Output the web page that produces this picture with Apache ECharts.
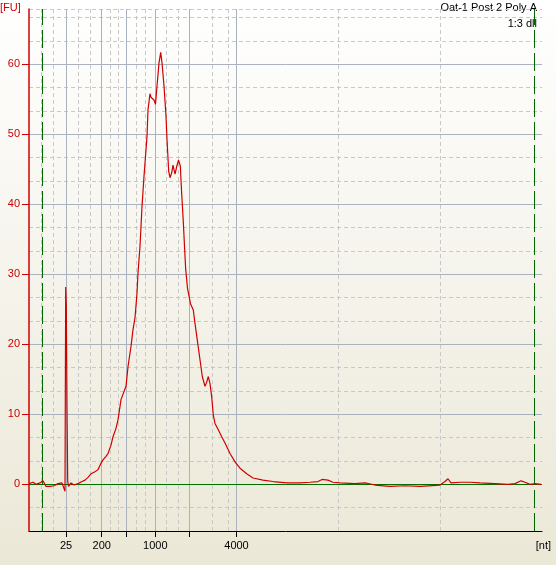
<!DOCTYPE html>
<html>
<head>
<meta charset="utf-8">
<script src="https://cdn.jsdelivr.net/npm/echarts@6/dist/echarts.min.js"></script>
<style>html,body{margin:0;padding:0;}#c{width:556px;height:565px;}</style>
</head>
<body>
<div id="c"></div>
<script>
// migration time (s) and fluorescence (FU)
const timeSec = [19.0,19.4,19.7,20.1,20.4,20.7,21.1,21.5,21.9,22.3,22.5,22.6,22.67,22.73,22.8,22.87,22.95,23.2,23.5,23.9,24.3,24.6,24.9,25.2,25.6,25.9,26.2,26.4,26.7,26.9,27.2,27.4,27.7,27.9,28.2,28.4,28.7,28.9,29.2,29.4,29.6,29.8,29.9,30.1,30.3,30.5,30.8,30.9,31.1,31.2,31.3,31.5,31.65,31.8,32.0,32.17,32.3,32.5,32.7,32.8,32.97,33.1,33.27,33.4,33.6,33.77,33.95,34.13,34.27,34.43,34.55,34.67,34.85,35.15,35.43,35.6,35.83,36.1,36.33,36.6,36.77,36.93,37.1,37.27,37.43,37.6,37.93,38.27,38.6,39.1,39.6,40.1,40.77,41.4,42.4,43.4,44.8,46.1,47.1,47.9,48.3,48.9,49.4,50.1,51.6,52.6,53.6,55.1,56.6,58.1,60.1,60.6,60.9,61.2,62.1,63.1,64.1,65.6,66.9,67.6,68.2,68.6,69.1,69.6,70.2];
const fluorescence = [0.1,0.3,0.0,0.2,0.5,-0.3,-0.3,-0.2,0.1,0.2,0.4,-1.0,28.2,25.6,11.0,0.5,-0.3,0.2,-0.1,0.1,0.4,0.6,1.0,1.5,1.8,2.1,3.0,3.5,4.0,4.4,5.6,6.8,8.0,9.2,12.1,12.2,14.0,16.8,19.7,22.1,23.8,27.3,30.2,34.0,39.7,44.0,49.7,53.5,55.8,55.3,55.1,54.9,54.3,56.9,60.2,61.7,60.2,56.9,52.6,49.3,44.7,43.8,44.5,45.6,44.3,45.4,46.3,45.5,41.5,37.5,34.0,30.7,28.0,25.8,24.9,23.0,20.6,17.8,15.4,14.0,14.6,15.4,14.4,12.5,9.9,8.7,7.8,6.8,5.9,4.4,3.2,2.3,1.5,0.9,0.6,0.4,0.2,0.2,0.3,0.4,0.7,0.6,0.3,0.2,0.1,0.2,-0.1,-0.3,-0.2,-0.3,-0.1,0.4,0.8,0.2,0.3,0.3,0.2,0.1,0.0,0.1,0.5,0.3,0.0,0.1,0.0];

// ladder positions (s) and their size labels (nt)
const ladderTimes = [22.7,26.27,28.75,31.63,35.03,39.75];
const ladderLabels = ['25','200','','1000','','4000'];
const minorGridTimes = [20.23,21.43,23.89,25.08,27.1,27.93,29.71,30.67,31.6,32.76,33.9,37.34,38.9,49.95,60.17];
const markerTimes = [20.37,69.53];
const fuTicks = [0,10,20,30,40,50,60];
const fuMajorGrid = [10,20,30,40,50,60];

const FONT = 'Liberation Sans';
const chart = echarts.init(document.getElementById('c'));
const trace = timeSec.map((t,i)=>[t,fluorescence[i]]);

const xMin = 19, xMax = 70.3;
const yMin = -20/3, yMax = 67.9;
chart.setOption({
  animation:false,
  backgroundColor:{type:'linear',x:0,y:0,x2:0,y2:1,colorStops:[{offset:0,color:'#ffffff'},{offset:1,color:'#ebe8d7'}]},
  grid:{left:29,right:14,top:9,bottom:34},
  xAxis:{
    type:'value',min:xMin,max:xMax,
    axisLine:{show:true,onZero:false,lineStyle:{color:'#000',width:1}},
    axisTick:{show:true,customValues:ladderTimes,length:6,lineStyle:{color:'#000'}},
    axisLabel:{customValues:ladderTimes,color:'#000',fontFamily:FONT,fontSize:11,margin:9,
      formatter:(v)=>{let bi=0,bd=1e9;ladderTimes.forEach((t,i)=>{const d=Math.abs(t-v);if(d<bd){bd=d;bi=i;}});return ladderLabels[bi];}},
    splitLine:{show:false}
  },
  yAxis:[{
    type:'value',min:yMin,max:yMax,interval:10/3,position:'left',z:10,
    axisLine:{show:true,onZero:false,lineStyle:{color:'#d00000',width:1.5}},
    axisTick:{show:true,customValues:fuTicks,length:7,lineStyle:{color:'#cc0000'}},
    axisLabel:{customValues:fuTicks,color:'#cc0000',fontFamily:FONT,fontSize:11,margin:9},
    splitLine:{show:false}
  },{
    type:'value',min:yMin,max:yMax,interval:10/3,position:'left',
    axisLine:{show:false},axisTick:{show:false},axisLabel:{show:false},
    splitLine:{show:true,lineStyle:{color:'#c8c8c8',type:[4,3],width:1}}
  }],
  graphic:[
    {type:'text',left:0,top:2,style:{text:'[FU]',fill:'#cc0000',font:'11px '+FONT}},
    {type:'text',right:5,top:540,style:{text:'[nt]',fill:'#000',font:'11px '+FONT}},
    {type:'text',right:19,top:2,style:{text:'Oat-1 Post 2 Poly A',fill:'#000',font:'11px '+FONT}},
    {type:'text',right:19,top:18,style:{text:'1:3 dll',fill:'#000',font:'11px '+FONT}}
  ],
  series:[
    {type:'line',data:[],z:1,silent:true,
     markLine:{silent:true,symbol:'none',label:{show:false},animation:false,
       data:[
         ...minorGridTimes.map(t=>({xAxis:t,lineStyle:{color:'#c8c8c8',type:[4,3],width:1}})),
         ...fuMajorGrid.map(v=>({yAxis:v,lineStyle:{color:'#aab2c0',type:'solid',width:1}})),
         ...ladderTimes.map(t=>({xAxis:t,lineStyle:{color:'#aab2c0',type:'solid',width:1}})),
         {yAxis:0,lineStyle:{color:'#007000',type:'solid',width:1}},
         ...markerTimes.map(t=>({xAxis:t,lineStyle:{color:'#006600',type:[18,5],width:1}}))
       ]}},
    {type:'line',data:trace,z:5,showSymbol:false,symbol:'none',smooth:false,
     lineStyle:{color:'#d00000',width:1.2}}
  ]
});
</script>
</body>
</html>
